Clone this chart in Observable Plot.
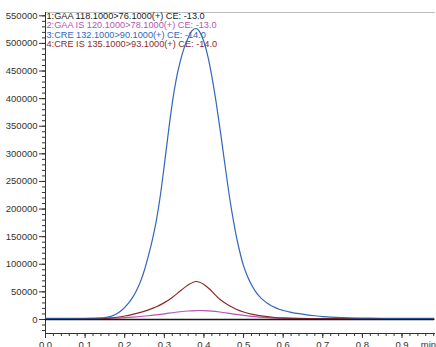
<!DOCTYPE html>
<html><head><meta charset="utf-8">
<script src="https://cdn.jsdelivr.net/npm/d3@7"></script>
<script src="https://cdn.jsdelivr.net/npm/@observablehq/plot@0.6"></script>
<style>body{margin:0;background:#fff;} svg{display:block;}</style>
</head><body><div id="chart"></div>
<script>
// CRE (fine grid)
const creTime = [0, 0.05, 0.10, 0.12, 0.14, 0.15, 0.16, 0.17, 0.18, 0.19, 0.20, 0.21, 0.22, 0.23, 0.24, 0.25, 0.26, 0.27, 0.28, 0.29, 0.30, 0.31, 0.32, 0.33, 0.34, 0.35, 0.36, 0.37, 0.38, 0.39, 0.40, 0.41, 0.42, 0.43, 0.44, 0.45, 0.46, 0.47, 0.48, 0.49, 0.50, 0.51, 0.52, 0.53, 0.54, 0.55, 0.56, 0.57, 0.58, 0.59, 0.60, 0.62, 0.64, 0.66, 0.68, 0.70, 0.72, 0.75, 0.80, 0.85, 0.90, 0.98];
const cre     = [2000, 2000, 2200, 2500, 3000, 3600, 4800, 7000, 10500, 15500, 22000, 30000, 40000, 53000, 69000, 90000, 116000, 145000, 180000, 225000, 280000, 338000, 392000, 435000, 467000, 492000, 510000, 523000, 527000, 520000, 503000, 476000, 440000, 397000, 348000, 296000, 244000, 197000, 157000, 124000, 97000, 78000, 63000, 51000, 42000, 35000, 29500, 25000, 21500, 18500, 16300, 13000, 10500, 8500, 6800, 5300, 4200, 3200, 2500, 2200, 2000, 2000];
// GAA, GAA IS, CRE IS (coarser grid)
const time  = [0, 0.05, 0.10, 0.14, 0.16, 0.18, 0.20, 0.22, 0.24, 0.26, 0.28, 0.30, 0.32, 0.34, 0.36, 0.38, 0.40, 0.42, 0.44, 0.46, 0.48, 0.50, 0.52, 0.54, 0.56, 0.58, 0.60, 0.64, 0.68, 0.72, 0.78, 0.85, 0.92, 0.98];
const gaa   = [0, 0, 0, 0, 0, 0, 0, 0, 0, 0, 0, 0, 0, 0, 0, 0, 0, 0, 0, 0, 0, 0, 0, 0, 0, 0, 0, 0, 0, 0, 0, 0, 0, 0];
const gaaIS = [1500, 1500, 1500, 1700, 2000, 2500, 3200, 4200, 5400, 6800, 8500, 10300, 12200, 14000, 15400, 16200, 16100, 15100, 13500, 11500, 9300, 7300, 5600, 4300, 3300, 2600, 2100, 1700, 1500, 1500, 1500, 1500, 1500, 1500];
const creIS = [1500, 1500, 1500, 1800, 2500, 4000, 6300, 9300, 13000, 17500, 23000, 30500, 40000, 51500, 62500, 68800, 63500, 51000, 36500, 26500, 19000, 13500, 9800, 7000, 5000, 3600, 2800, 2000, 1700, 1500, 1500, 1500, 1500, 1500];
const seriesNames = ["1:GAA 118.1000>76.1000(+) CE: -13.0", "2:GAA IS 120.1000>78.1000(+) CE: -13.0", "3:CRE 132.1000>90.1000(+) CE: -14.0", "4:CRE IS 135.1000>93.1000(+) CE: -14.0"];
const seriesColors = ["#1a1a1a", "#b257b2", "#3265bd", "#8c2a2a"];
const yMajor = [0, 50000, 100000, 150000, 200000, 250000, 300000, 350000, 400000, 450000, 500000, 550000];
const yMinor = d3.range(-20000, 550001, 10000);
const xMajor = [0, 0.1, 0.2, 0.3, 0.4, 0.5, 0.6, 0.7, 0.8, 0.9];
const xMinor = d3.range(0, 0.981, 0.02);
const xUnit = "min";

const seriesData = [
  [time, gaa], [time, gaaIS], [creTime, cre], [time, creIS]
];
const order = [1, 3, 2, 0]; // drawing order
const lineMarks = order.map(s => Plot.line(seriesData[s][0].map((t, i) => ({t, v: seriesData[s][1][i]})), {
  x: "t", y: "v", stroke: seriesColors[s], strokeWidth: s === 0 ? 1.6 : 1.2,
  curve: s === 2 ? "monotone-x" : "catmull-rom"
}));
const legendMarks = seriesNames.map((n, i) => Plot.text([n], {
  frameAnchor: "top-left", text: d => d, dx: 1, dy: 3.3 + i * 9.4, lineAnchor: "middle",
  textAnchor: "start", fill: seriesColors[i], fontSize: 9.2
}));

const chart = Plot.plot({
  width: 436, height: 347,
  marginLeft: 45, marginRight: 2, marginTop: 12, marginBottom: 14,
  style: {fontFamily: "Liberation Sans, Arial, sans-serif", background: "#fff"},
  x: {domain: [0, 0.982]},
  y: {domain: [-25400, 556000]},
  marks: [
    Plot.frame({anchor: "top", stroke: "#bdbdbd"}),
    Plot.axisY({ticks: yMinor, tickSize: 3, tickFormat: () => "", stroke: "#333", label: null}),
    Plot.axisY({ticks: yMajor, tickSize: 6, tickPadding: 2, tickFormat: d => String(d), fontSize: 9.5, fill: "#333", stroke: "#333", label: null}),
    Plot.axisX({ticks: xMinor, tickSize: 3, tickFormat: () => "", stroke: "#333", label: null}),
    Plot.axisX({ticks: xMajor, tickSize: 5, tickPadding: 3, tickFormat: d3.format(".1f"), fontSize: 9.5, fill: "#333", stroke: "#333", label: null}),
    Plot.text([xUnit], {frameAnchor: "bottom-right", text: d => d, dx: -6, dy: 8, lineAnchor: "top", textAnchor: "middle", fontSize: 9.5, fill: "#333"}),
    Plot.frame({anchor: "left", stroke: "#333"}),
    Plot.frame({anchor: "bottom", stroke: "#333"}),
    ...legendMarks,
    ...lineMarks
  ]
});
document.getElementById("chart").appendChild(chart);
</script></body></html>
